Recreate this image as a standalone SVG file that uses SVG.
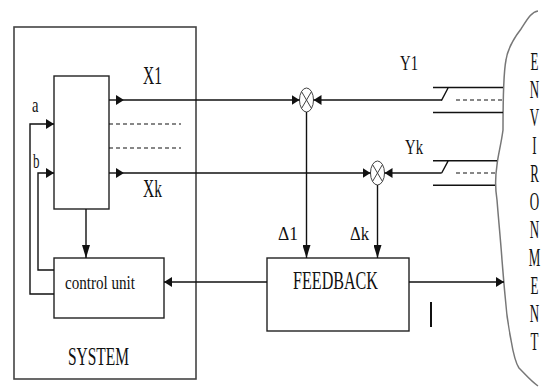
<svg xmlns="http://www.w3.org/2000/svg" width="548" height="388" viewBox="0 0 548 388">
<style>
.box{fill:#fff;stroke:#222;stroke-width:1.4}
.sys{fill:none;stroke:#444;stroke-width:1.6}
.ln{fill:none;stroke:#111;stroke-width:1.4}
.dash{fill:none;stroke:#111;stroke-width:1.2;stroke-dasharray:4,3}
.sum{fill:#fff;stroke:#444;stroke-width:1}
.env{fill:none;stroke:#777;stroke-width:1.5}
text{font-family:"Liberation Serif","Times New Roman",serif;fill:#111}
.big{font-size:26px}
.mid{font-size:21px}
.sm{font-size:19px}
.el{font-size:25px;text-anchor:middle}
</style>
<defs>
<marker id="ah" markerUnits="userSpaceOnUse" viewBox="0 0 8 10" refX="8" refY="5" markerWidth="8" markerHeight="10" orient="auto"><path d="M0,0 L8,5 L0,10 z" fill="#111"/></marker>
<marker id="av" markerUnits="userSpaceOnUse" viewBox="0 0 13 8" refX="13" refY="4" markerWidth="13" markerHeight="8" orient="auto"><path d="M0,0 L13,4 L0,8 z" fill="#111"/></marker>
</defs>

<g id="system">
<rect class="sys" x="14" y="27" width="182" height="352"/>
<text class="big" x="68" y="365" textLength="61" lengthAdjust="spacingAndGlyphs">SYSTEM</text>
</g>

<g id="block">
<rect class="box" x="54" y="76" width="55" height="133"/>
</g>

<g id="control-unit">
<rect class="box" x="54" y="258" width="110" height="60"/>
<text class="sm" x="65" y="289" textLength="70" lengthAdjust="spacingAndGlyphs">control unit</text>
</g>

<g id="feedback">
<rect class="box" x="267" y="258" width="142" height="73"/>
<text class="big" x="293" y="289" textLength="85" lengthAdjust="spacingAndGlyphs">FEEDBACK</text>
</g>

<g id="sum1">
<ellipse class="sum" cx="306.5" cy="100" rx="7" ry="12"/>
<path class="sum" d="M301.5,91.5 L311.5,108.5 M311.5,91.5 L301.5,108.5"/>
</g>

<g id="sumk">
<ellipse class="sum" cx="377.5" cy="173" rx="7" ry="12"/>
<path class="sum" d="M372.5,164.5 L382.5,181.5 M382.5,164.5 L372.5,181.5"/>
</g>

<g id="environment">
<path class="env" d="M538,11 C531,12 527,20 521,29 C514,38 508,47 506,60 C503,75 503,100 503,130 C501,145 498,155 497,165 C495,178 495,188 497,200 C499,225 501,245 502,260 C503,272 504,285 505,295 C506,310 508,325 511,340 C513,352 515,362 519,368 C526,375 531,381 538,386"/>
<g transform="translate(534.5,0) scale(0.52,1)">
<text class="el" x="0" y="70">E</text>
<text class="el" x="0" y="98">N</text>
<text class="el" x="0" y="126">V</text>
<text class="el" x="0" y="154">I</text>
<text class="el" x="0" y="182">R</text>
<text class="el" x="0" y="210">O</text>
<text class="el" x="0" y="238">N</text>
<text class="el" x="0" y="266">M</text>
<text class="el" x="0" y="294">E</text>
<text class="el" x="0" y="322">N</text>
<text class="el" x="0" y="350">T</text>
</g>
</g>

<g id="connectors">
<path class="ln" d="M109,100 H124" marker-end="url(#ah)"/>
<path class="ln" d="M124,100 H299.5" marker-end="url(#ah)"/>
<path class="ln" d="M109,173 H124" marker-end="url(#ah)"/>
<path class="ln" d="M124,173 H370.5" marker-end="url(#ah)"/>
<path class="dash" d="M109,124 H181 M109,148 H181"/>
<path class="ln" d="M54,294 H30 V124 H54" marker-end="url(#ah)"/>
<path class="ln" d="M54,270 H38 V173 H54" marker-end="url(#ah)"/>
<path class="ln" d="M86,209 V258" marker-end="url(#av)"/>
<path class="ln" d="M433,87.5 H503 M433,112.5 H503 M448.3,87.5 L441.7,100 H441"/>
<path class="ln" d="M441.7,100 H313.5" marker-end="url(#ah)"/>
<path class="dash" d="M456,100 H503"/>
<path class="ln" d="M433,160.7 H497 M433,185.3 H495 M448.3,160.7 L441.7,173"/>
<path class="ln" d="M441.7,173 H384.5" marker-end="url(#ah)"/>
<path class="dash" d="M456,173 H496"/>
<path class="ln" d="M306.5,112 V258" marker-end="url(#av)"/>
<path class="ln" d="M377.5,185 V258" marker-end="url(#av)"/>
<path class="ln" d="M267,282 H164" marker-end="url(#ah)"/>
<path class="ln" d="M409,282 H504" marker-end="url(#ah)"/>
<path d="M431,302 V327" stroke="#111" stroke-width="2"/>
</g>

<g id="labels">
<text class="big" x="143" y="84" textLength="19" lengthAdjust="spacingAndGlyphs">X1</text>
<text class="big" x="143" y="197" textLength="19" lengthAdjust="spacingAndGlyphs">Xk</text>
<text class="mid" x="32" y="112" textLength="6.5" lengthAdjust="spacingAndGlyphs">a</text>
<text class="mid" x="33" y="168" textLength="6.5" lengthAdjust="spacingAndGlyphs">b</text>
<text class="mid" x="400" y="70" textLength="18" lengthAdjust="spacingAndGlyphs">Y1</text>
<text class="mid" x="405" y="154" textLength="18" lengthAdjust="spacingAndGlyphs">Yk</text>
<text class="sm" x="278" y="240" textLength="20" lengthAdjust="spacingAndGlyphs">Δ1</text>
<text class="sm" x="350" y="240" textLength="19" lengthAdjust="spacingAndGlyphs">Δk</text>
</g>
</svg>
